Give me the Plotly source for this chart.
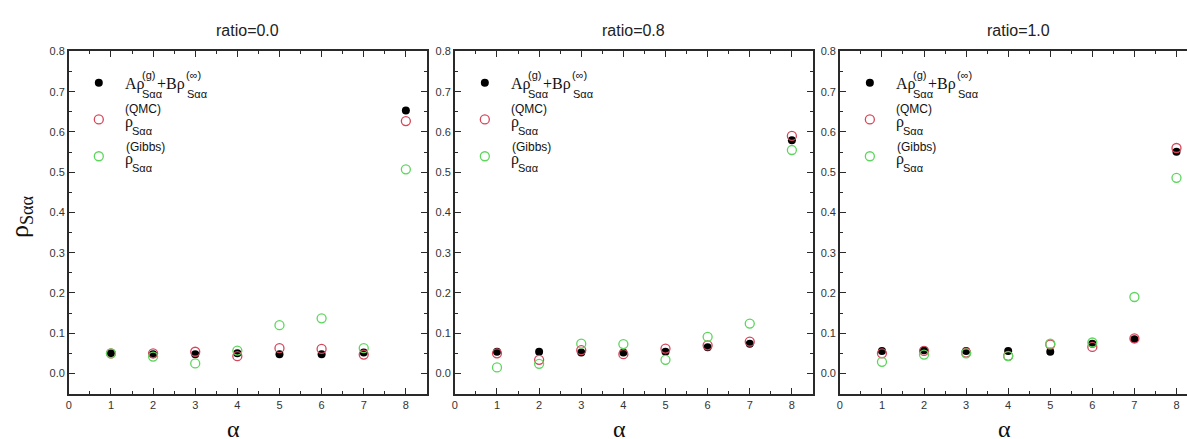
import plotly.graph_objects as go

W, H = 1187, 439

# ---------------- data ----------------
alpha = [1, 2, 3, 4, 5, 6, 7, 8]
ratios = ["ratio=0.0", "ratio=0.8", "ratio=1.0"]

# A*rho(g) + B*rho(inf)
fit_r00 = [0.050, 0.048, 0.048, 0.050, 0.048, 0.048, 0.052, 0.653]
fit_r08 = [0.054, 0.054, 0.052, 0.052, 0.054, 0.065, 0.074, 0.579]
fit_r10 = [0.056, 0.058, 0.056, 0.056, 0.054, 0.074, 0.085, 0.551]
# rho(QMC)
qmc_r00 = [0.050, 0.050, 0.054, 0.043, 0.063, 0.061, 0.047, 0.627]
qmc_r08 = [0.050, 0.034, 0.058, 0.048, 0.062, 0.070, 0.079, 0.590]
qmc_r10 = [0.050, 0.056, 0.052, 0.044, 0.072, 0.066, 0.087, 0.560]
# rho(Gibbs)
gibbs_r00 = [0.050, 0.042, 0.025, 0.057, 0.120, 0.137, 0.063, 0.507]
gibbs_r08 = [0.015, 0.024, 0.074, 0.073, 0.034, 0.091, 0.124, 0.555]
gibbs_r10 = [0.029, 0.047, 0.050, 0.043, 0.074, 0.077, 0.190, 0.486]

y_ticks = [0.0, 0.1, 0.2, 0.3, 0.4, 0.5, 0.6, 0.7, 0.8]
x_ticks = [0, 1, 2, 3, 4, 5, 6, 7, 8]

panels = [
    (fit_r00, qmc_r00, gibbs_r00),
    (fit_r08, qmc_r08, gibbs_r08),
    (fit_r10, qmc_r10, gibbs_r10),
]

# ---------------- layout geometry (pixels) ----------------
panel_px = [(66, 425), (453, 812), (839, 1187)]
x_ranges = [[0, 8.5], [0, 8.5], [0, 8.25]]
top_px, bot_px = 46, 393

BLACK = "#000000"
RED = "#d6465a"
GREEN = "#5cd65c"
AXC = "#2a2a2a"
TXT = "#333333"
SANS = "Liberation Sans, Arial, sans-serif"
SERIF = "Liberation Serif, Times New Roman, serif"

fig = go.Figure()

for i, (fit, qmc, gib) in enumerate(panels):
    n = "" if i == 0 else str(i + 1)
    lg = "legend" + n
    common = dict(x=alpha, mode="markers", xaxis="x" + n, yaxis="y" + n,
                  legend=lg, name="\u00a0", showlegend=True, hoverinfo="x+y")
    fig.add_trace(go.Scatter(y=fit, marker=dict(symbol="circle", size=8, color=BLACK,
                                                 line=dict(width=0)), **common))
    fig.add_trace(go.Scatter(y=qmc, marker=dict(symbol="circle-open", size=9, color=RED,
                                                 line=dict(width=1.3, color=RED)), **common))
    fig.add_trace(go.Scatter(y=gib, marker=dict(symbol="circle-open", size=9, color=GREEN,
                                                 line=dict(width=1.3, color=GREEN)), **common))

layout = dict(
    width=W, height=H, autosize=False,
    margin=dict(l=0, r=0, t=0, b=0),
    paper_bgcolor="white", plot_bgcolor="white",
    showlegend=True,
)

ydom = [1 - bot_px / H, 1 - top_px / H]
annotations = []


def ann(x, y, text, size, family, xanchor="left", color="#111111", **kw):
    d = dict(x=x / W, y=1 - y / H, xref="paper", yref="paper", text=text,
             showarrow=False, font=dict(size=size, family=family, color=color),
             xanchor=xanchor, yanchor="middle")
    d.update(kw)
    return d


for i, (l, r) in enumerate(panel_px):
    n = "" if i == 0 else str(i + 1)
    xa = dict(
        domain=[l / W, r / W], range=x_ranges[i], anchor="y" + n,
        tickvals=x_ticks, ticks="inside", ticklen=6, tickwidth=1.2, tickcolor=AXC,
        minor=dict(dtick=0.5, tick0=0, ticks="inside", ticklen=3, tickwidth=1, tickcolor=AXC),
        showline=True, linecolor=AXC, linewidth=1.5, mirror="ticks",
        showgrid=False, zeroline=False,
        tickfont=dict(size=11, family=SANS, color=TXT),
    )
    ya = dict(
        domain=ydom, range=[-0.05, 0.8], anchor="x" + n,
        tickvals=y_ticks, tickformat=".1f", ticks="inside", ticklen=6, tickwidth=1.2,
        tickcolor=AXC,
        minor=dict(dtick=0.05, tick0=0, ticks="inside", ticklen=3, tickwidth=1, tickcolor=AXC),
        showline=True, linecolor=AXC, linewidth=1.5,
        mirror=("ticks" if i < 2 else False),
        showgrid=False, zeroline=False,
        tickfont=dict(size=11, family=SANS, color=TXT),
    )
    layout["xaxis" + n] = xa
    layout["yaxis" + n] = ya

    # legend for markers
    layout["legend" + n] = dict(
        x=(l + 33 - 23) / W, y=1 - 54 / H, xanchor="left", yanchor="top",
        bgcolor="rgba(0,0,0,0)", borderwidth=0, font=dict(size=26, family=SANS),
        itemclick=False, itemdoubleclick=False,
    )

    # title
    cx = (l + (l + 8.5 * (r - l) / x_ranges[i][1])) / 2
    annotations.append(ann(cx, 25, ratios[i], 16, SANS, xanchor="center", color="#222222"))
    # x axis title
    annotations.append(ann(cx - 14, 429, "α", 24, SERIF, xanchor="center"))

    # legend labels
    annotations += [
        ann(l + 54, 79, "Aρ", 16, SERIF),
        ann(l + 71, 70, "(g)", 11, SANS),
        ann(l + 71, 89, "Sαα", 11, SANS),
        ann(l + 86, 79, "+Bρ", 16, SERIF),
        ann(l + 115, 70, "(∞)", 11, SANS),
        ann(l + 116, 89, "Sαα", 11, SANS),
        ann(l + 54, 118, "ρ", 16, SERIF),
        ann(l + 54, 104, "(QMC)", 12, SANS),
        ann(l + 61, 127, "Sαα", 11, SANS),
        ann(l + 54, 155, "ρ", 16, SERIF),
        ann(l + 55, 143, "(Gibbs)", 12, SANS),
        ann(l + 61, 164, "Sαα", 11, SANS),
    ]

# y-axis title on first panel
annotations.append(ann(18, 213, "ρ<sub>Sαα</sub>", 26, SERIF, xanchor="center",
                       textangle=-90))

layout["annotations"] = annotations
fig.update_layout(**layout)

fig.write_html("out.html")
